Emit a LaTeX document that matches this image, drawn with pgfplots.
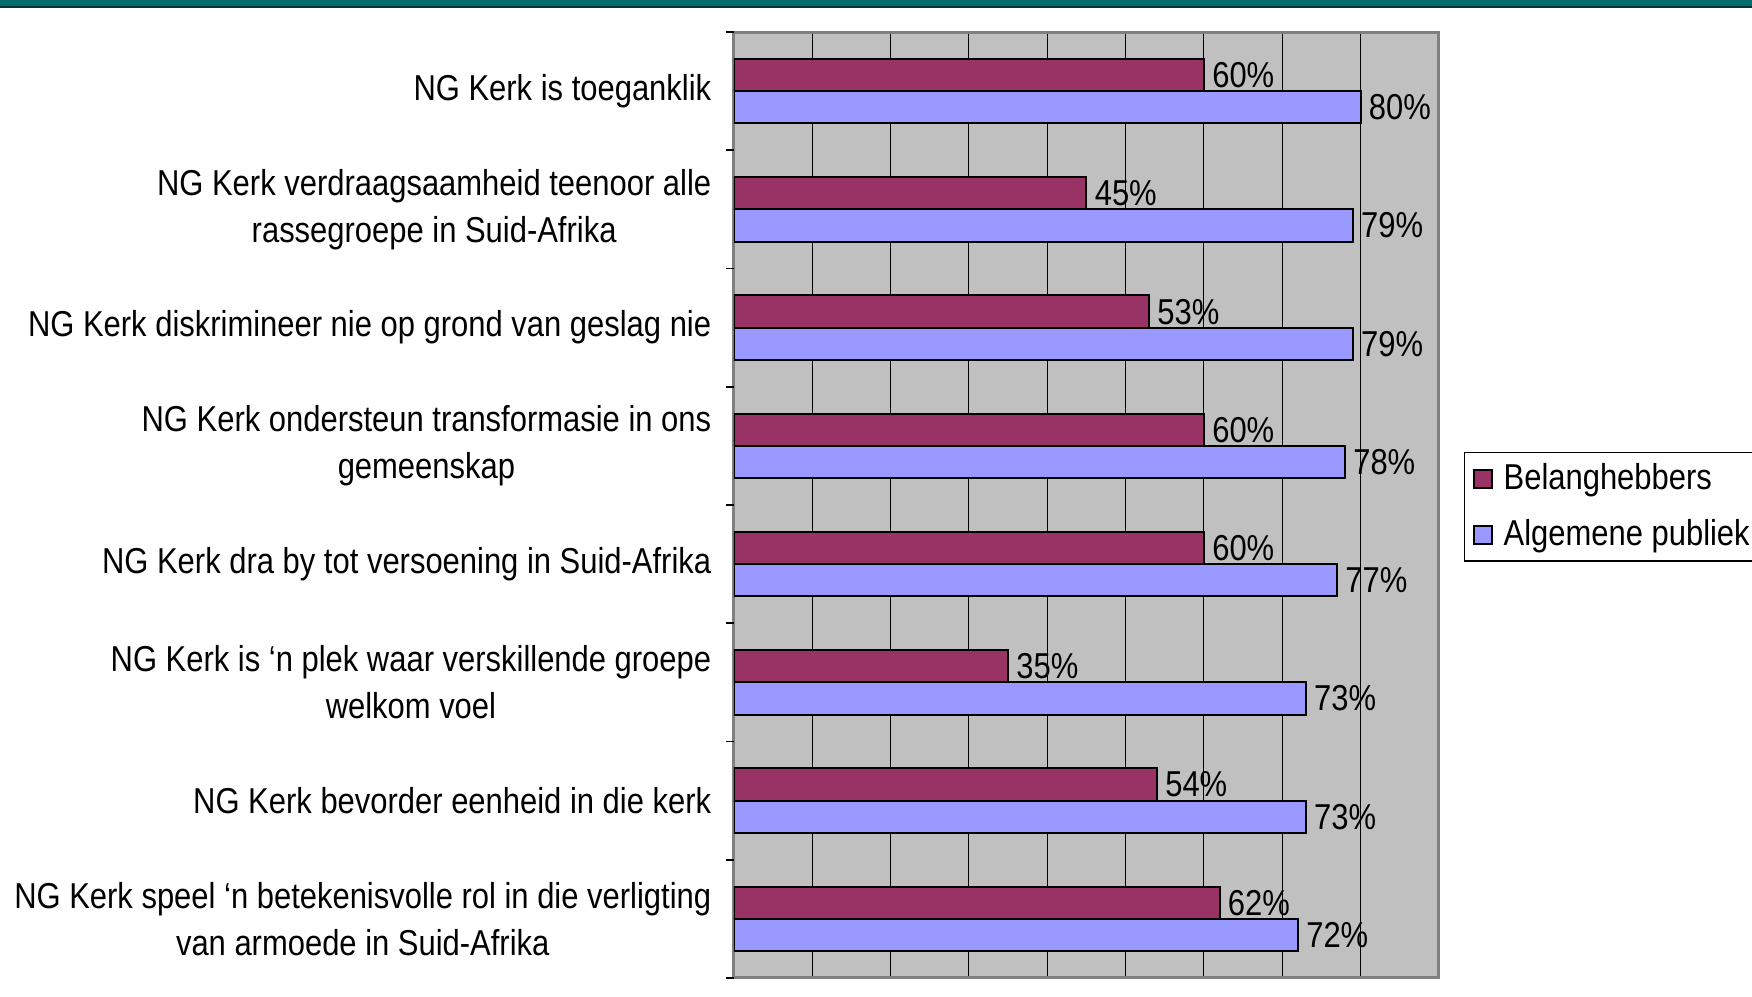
\documentclass[border=0pt]{standalone}
\usepackage{fontspec}
\setmainfont{Liberation Sans}[FakeStretch=0.86]
\usepackage{pgfplots}
\pgfplotsset{compat=1.18}
\definecolor{plum}{HTML}{993366}
\definecolor{lav}{HTML}{9999FF}
\definecolor{plotgray}{HTML}{C0C0C0}
\definecolor{teala}{HTML}{006E6B}
\definecolor{tealb}{HTML}{003634}
\newcommand\lfont{\fontsize{10.8pt}{14.1pt}\selectfont}
\begin{document}
\begin{tikzpicture}
\useasboundingbox (0,0) rectangle (525.6pt,299.1pt);
\fill[teala] (0,297.3pt) rectangle (525.6pt,299.1pt);
\fill[tealb] (0,296.7pt) rectangle (525.6pt,297.3pt);
\begin{axis}[
  at={(220.2pt,5.7pt)}, anchor=south west,
  scale only axis, width=211.5pt, height=283.8pt,
  xmin=0, xmax=90, ymin=-0.5, ymax=7.5, y dir=reverse,
  axis background/.style={fill=plotgray},
  axis line style={draw=gray, line width=0.9pt},
  xtick={0,10,...,90}, xticklabels={}, xmajorgrids,
  grid style={black, line width=0.3pt},
  major tick length=0pt, xtick pos=bottom, ytick pos=left,
  ytick={0,...,7},
  yticklabels={
    {NG Kerk is toeganklik},
    {NG Kerk verdraagsaamheid teenoor alle\\rassegroepe in Suid-Afrika},
    {NG Kerk diskrimineer nie op grond van geslag nie},
    {NG Kerk ondersteun transformasie in ons\\gemeenskap},
    {NG Kerk dra by tot versoening in Suid-Afrika},
    {NG Kerk is ‘n plek waar verskillende groepe\\welkom voel},
    {NG Kerk bevorder eenheid in die kerk},
    {NG Kerk speel ‘n betekenisvolle rol in die verligting\\van armoede in Suid-Afrika}},
  yticklabel style={font=\lfont, align=center, xshift=-3.3pt},
  extra y ticks={-0.5,0.5,...,7.5}, extra y tick labels={},
  extra y tick style={grid=none, tick align=outside, major tick length=2.4pt,
    tick style={black, line width=0.5pt}},
  point meta=x,
  nodes near coords={\pgfmathprintnumber{\pgfplotspointmeta}\%},
  nodes near coords style={font=\lfont, anchor=west, inner sep=1pt, xshift=1.2pt},
  /pgf/number format/assume math mode=true,
  legend style={at={(axis description cs:1.0355,0.556)}, anchor=north west,
    draw=black, line width=0.4pt, fill=white, font=\lfont,
    inner xsep=2.6pt, inner ysep=1.2pt, row sep=3.4pt,
    nodes={inner xsep=3.1pt}},
  legend cell align=left,
  legend image code/.code={\draw[#1, draw=black, line width=0.6pt] (0pt,-2.7pt) rectangle (5.4pt,2.7pt);},
]
\addplot[xbar, bar width=0.272, bar shift=-0.136, fill=plum, draw=black, line width=0.6pt,
  every node near coord/.append style={yshift=4.8pt}]
  coordinates {(60,0) (45,1) (53,2) (60,3) (60,4) (35,5) (54,6) (62,7)};
\addlegendentry{Belanghebbers}
\addplot[xbar, bar width=0.272, bar shift=0.136, fill=lav, draw=black, line width=0.6pt,
  every node near coord/.append style={yshift=-4.8pt}]
  coordinates {(80,0) (79,1) (79,2) (78,3) (77,4) (73,5) (73,6) (72,7)};
\addlegendentry{Algemene publiek}
\end{axis}
\end{tikzpicture}
\end{document}
